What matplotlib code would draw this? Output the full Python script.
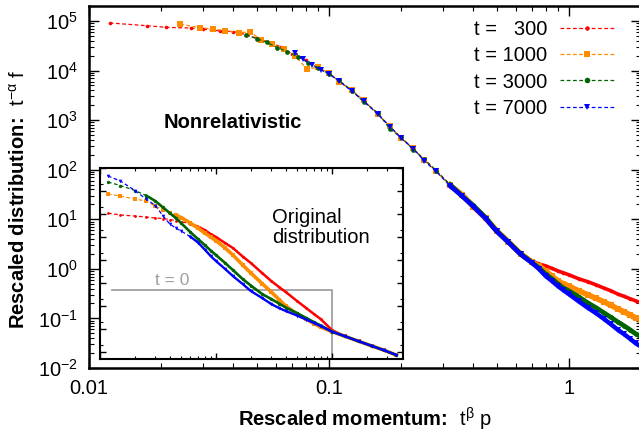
import numpy as np
import matplotlib
matplotlib.use('Agg')
import matplotlib.pyplot as plt
from matplotlib.lines import Line2D
from matplotlib.ticker import LogLocator, NullFormatter, LogFormatterMathtext

# ---------------- main panel: rescaled distributions ----------------
labels = ['t =   300', 't = 1000', 't = 3000', 't = 7000']

x_300 = [0.0122, 0.0175, 0.021, 0.0265, 0.03, 0.035, 0.04, 0.045, 0.05, 0.056, 0.063, 0.07,
         0.08, 0.09, 0.1, 0.11, 0.125, 0.14, 0.16, 0.18, 0.2, 0.225, 0.25, 0.28, 0.32, 0.36,
         0.4, 0.45, 0.5, 0.56, 0.63, 0.7, 0.75, 0.8, 0.85, 0.9, 0.95, 1.0, 1.1, 1.2, 1.3, 1.4,
         1.5, 1.6, 1.7, 1.8, 1.9, 2.0]
f_300 = [9.1e4, 8.0e4, 7.4e4, 7.2e4, 6.8e4, 6.3e4, 6.1e4, 5.3e4, 4.5e4, 3.8e4, 3.0e4, 2.2e4,
         1.6e4, 1.15e4, 8.8e3, 6.3e3, 3.8e3, 2.4e3, 1.35e3, 720, 450, 260, 160, 95, 50, 30,
         19, 11, 6.0, 3.6, 2.1, 1.45, 1.26, 1.15, 1.02, 0.91, 0.83, 0.76, 0.63, 0.55, 0.475, 0.41,
         0.36, 0.31, 0.279, 0.25, 0.226, 0.206]

x_1000 = [0.024, 0.029, 0.033, 0.037, 0.042, 0.047, 0.052, 0.058, 0.065, 0.072, 0.081, 0.09,
          0.1, 0.11, 0.125, 0.14, 0.16, 0.18, 0.2, 0.225, 0.25, 0.28, 0.32, 0.36, 0.4, 0.45,
          0.5, 0.56, 0.63, 0.7, 0.75, 0.8, 0.85, 0.9, 0.95, 1.0, 1.1, 1.2, 1.3, 1.4, 1.5, 1.6,
          1.7, 1.8, 1.9, 2.0]
f_1000 = [8.6e4, 7.3e4, 6.9e4, 6.3e4, 5.8e4, 6.0e4, 4.2e4, 3.4e4, 2.7e4, 2.0e4, 1.08e4, 1.15e4,
          9.0e3, 6.0e3, 4.0e3, 2.5e3, 1.3e3, 750, 430, 270, 155, 92, 48, 31, 18, 10.5,
          5.9, 3.5, 2.0, 1.38, 1.15, 0.91, 0.72, 0.57, 0.50, 0.45, 0.36, 0.30, 0.254, 0.216, 0.184, 0.156,
          0.136, 0.118, 0.103, 0.094]

x_3000 = [0.045, 0.05, 0.055, 0.061, 0.067, 0.074, 0.082, 0.09, 0.1, 0.11, 0.125, 0.14, 0.16,
          0.18, 0.2, 0.225, 0.25, 0.28, 0.32, 0.36, 0.4, 0.45, 0.5, 0.56, 0.63, 0.7, 0.75, 0.8,
          0.85, 0.9, 0.95, 1.0, 1.1, 1.2, 1.3, 1.4, 1.5, 1.6, 1.7, 1.8, 1.9, 2.0]
f_3000 = [5.2e4, 4.4e4, 3.7e4, 2.9e4, 2.4e4, 1.9e4, 1.45e4, 1.12e4, 8.6e3, 6.3e3, 3.9e3, 2.3e3, 1.4e3,
          650, 450, 250, 162, 96, 50, 29, 19, 10.8, 5.8, 3.5, 2.0, 1.36, 1.05, 0.79,
          0.63, 0.50, 0.41, 0.36, 0.272, 0.206, 0.164, 0.130, 0.105, 0.085, 0.071, 0.059, 0.049, 0.043]

x_7000 = [0.072, 0.078, 0.085, 0.093, 0.1, 0.11, 0.125, 0.14, 0.16, 0.18, 0.2, 0.225, 0.25,
          0.28, 0.32, 0.36, 0.4, 0.45, 0.5, 0.56, 0.63, 0.7, 0.75, 0.8, 0.85, 0.9, 0.95, 1.0,
          1.1, 1.2, 1.3, 1.4, 1.5, 1.6, 1.7, 1.8, 1.9, 2.0]
f_7000 = [2.3e4, 1.7e4, 1.3e4, 1.02e4, 8.5e3, 6.2e3, 3.8e3, 2.4e3, 1.3e3, 740, 430, 265, 150,
          92, 47, 29, 18, 10.3, 5.7, 3.4, 1.95, 1.33, 1.0, 0.72, 0.57, 0.45, 0.37, 0.31,
          0.221, 0.164, 0.127, 0.098, 0.076, 0.059, 0.048, 0.039, 0.0315, 0.027]

# ---------------- inset: original distributions ----------------
p_orig = [0.0117, 0.015, 0.02, 0.025, 0.03, 0.035, 0.04, 0.045, 0.05, 0.06, 0.07, 0.08, 0.09,
          0.1, 0.12, 0.14, 0.17, 0.2, 0.25, 0.3, 0.35, 0.4, 0.5, 0.6, 0.7, 0.8, 1.0, 1.3, 1.7,
          2.2, 2.8, 3.6]
g_300 = [1.10, 0.906, 0.818, 0.741, 0.670, 0.637, 0.577, 0.521, 0.472, 0.367, 0.286, 0.201, 0.135,
         0.1, 0.0548, 0.0333, 0.0142, 0.00741, 0.00272, 0.00122, 6.7e-4, 4.07e-4, 1.65e-4, 8.18e-5,
         4.49e-5, 2.72e-5, 9.06e-6, 4.82e-6, 2.95e-6, 1.86e-6, 1.21e-6, 7.41e-7]
g_1000 = [7.41, 6.06, 4.49, 3.67, 2.23, 1.49, 1.10, 0.906, 0.705, 0.407, 0.246, 0.149, 0.1,
          0.0705, 0.0333, 0.0165, 0.00607, 0.00272, 9.5e-4, 4.07e-4, 1.92e-4, 1.0e-4, 4.49e-5,
          2.72e-5, 1.73e-5, 1.22e-5, 7.78e-6, 4.82e-6, 2.95e-6, 1.86e-6, 1.21e-6, 7.41e-7]
g_3000 = [24.6, 17.3, 10.5, 6.37, 3.67, 1.92, 1.10, 0.670, 0.407, 0.165, 0.0818, 0.0449, 0.0259,
          0.0165, 0.00741, 0.00367, 0.00149, 7.78e-4, 3.33e-4, 2.01e-4, 1.29e-4, 8.61e-5, 4.97e-5,
          3.01e-5, 2.01e-5, 1.42e-5, 7.78e-6, 4.82e-6, 2.95e-6, 1.86e-6, 1.21e-6, 7.41e-7]
g_7000 = [44.9, 27.2, 10.5, 4.49, 2.34, 0.818, 0.367, 0.246, 0.182, 0.105, 0.0577, 0.0287, 0.0149,
          0.00906, 0.00406, 0.00201, 9.06e-4, 4.49e-4, 2.23e-4, 1.22e-4, 8.18e-5, 6.07e-5, 3.87e-5,
          2.59e-5, 1.82e-5, 1.35e-5, 7.78e-6, 4.82e-6, 2.95e-6, 1.86e-6, 1.21e-6, 7.41e-7]

# initial step distribution
p_t0 = [0.0127, 1.0, 1.0]
g_t0 = [5e-4, 5e-4, 1e-9]

# ---------------- styles ----------------
colors = ['#ff0000', '#ff8c00', '#006400', '#0000ff']
markers = ['o', 's', 'o', 'v']
ms_main = [2.6, 3.9, 3.4, 4.0]
ms_ins = [2.0, 3.0, 2.4, 2.6]
band_main = [2.6, 4.0, 3.4, 3.2]
band_ins = [1.8, 2.6, 1.9, 1.7]
solid_from = [0.06, 0.045, 0.025, 0.06]

plt.rcParams['font.family'] = 'Liberation Sans'
plt.rcParams['mathtext.fontset'] = 'custom'
plt.rcParams['mathtext.rm'] = 'Liberation Sans'
plt.rcParams['mathtext.it'] = 'Liberation Sans:italic'
plt.rcParams['mathtext.bf'] = 'Liberation Sans:bold'
plt.rcParams['mathtext.default'] = 'regular'
fs = 14.5

fig = plt.figure(figsize=(6.39, 4.41), dpi=100)
ax = fig.add_axes([89/639, 1-368/441, 552/639, 362/441])

series = [(x_300, f_300), (x_1000, f_1000), (x_3000, f_3000), (x_7000, f_7000)]
for i, (x, y) in enumerate(series):
    ax.plot(x, y, color=colors[i], ls='--', dashes=(3, 2), lw=0.9, marker=markers[i],
            ms=ms_main[i], mew=0, zorder=3)
    xa, ya = np.array(x), np.array(y)
    sel = xa >= 0.3
    ax.plot(xa[sel], ya[sel], color=colors[i], lw=band_main[i], zorder=3)

ax.set_xscale('log')
ax.set_yscale('log')
ax.set_xlim(0.01, 2.0)
ax.set_ylim(1e-2, 2e5)
ax.set_xticks([0.01, 0.1, 1])
ax.set_xticklabels(['0.01', '0.1', '1'])
ax.xaxis.set_minor_locator(LogLocator(base=10, subs=np.arange(2, 10), numticks=50))
ax.xaxis.set_minor_formatter(NullFormatter())
ax.yaxis.set_major_locator(LogLocator(base=10, numticks=20))
ax.yaxis.set_major_formatter(LogFormatterMathtext())
ax.yaxis.set_minor_locator(LogLocator(base=10, subs=np.arange(2, 10), numticks=50))
ax.yaxis.set_minor_formatter(NullFormatter())
ax.tick_params(which='both', direction='in', top=True, right=True, labelsize=fs)
ax.tick_params(which='major', length=7, width=1.0, pad=8)
ax.tick_params(which='minor', length=3.5, width=0.8)
for s in ax.spines.values():
    s.set_linewidth(1.8)

ax.set_xlabel(r'$\mathbf{Rescaled\ momentum\!:}\!\ \ \mathrm{t^{\beta}\ p}$', fontsize=fs)
ax.set_ylabel(r'$\mathbf{Rescaled\ distribution\!:}\!\ \ \mathrm{t^{-\alpha}\ f}$', fontsize=fs)
ax.xaxis.set_label_coords(0.5, -0.105)
ax.yaxis.set_label_coords(-0.11, 0.467)

fig.text(233/639, 1-122/441, 'Nonrelativistic', fontsize=fs, fontweight='bold',
         ha='center', va='center')

handles = [Line2D([], [], color=colors[i], ls='--', dashes=(3, 2), lw=0.9, marker=markers[i],
                  ms=ms_main[i] + 0.6, mew=0) for i in range(4)]
fig.legend(handles, labels, loc='upper right', bbox_to_anchor=(615/639, 1-20/441),
           frameon=False, fontsize=fs, markerfirst=False, handlelength=2.75,
           handletextpad=0.6, labelspacing=0.36, borderpad=0, borderaxespad=0)

# ---------------- inset ----------------
axi = fig.add_axes([100/639, 1-359/441, 303/639, 191/441], zorder=5)
axi.set_facecolor('white')
insets = [g_300, g_1000, g_3000, g_7000]
pa = np.array(p_orig)
for i, g in enumerate(insets):
    axi.plot(p_orig, g, color=colors[i], ls='--', dashes=(3, 2), lw=0.9, marker=markers[i],
             ms=ms_ins[i], mew=0)
    sel = pa >= solid_from[i]
    axi.plot(pa[sel], np.array(g)[sel], color=colors[i], lw=band_ins[i])
axi.plot(p_t0, g_t0, color='#a0a0a0', lw=1.3, zorder=1)
axi.text(0.238, 0.387, 't = 0', transform=axi.transAxes, color='#a0a0a0', fontsize=12.5,
         ha='center', va='baseline')
axi.text(0.568, 0.79, 'Original\ndistribution', transform=axi.transAxes, fontsize=fs,
         ha='left', va='top', linespacing=1.05)

axi.set_xscale('log')
axi.set_yscale('log')
axi.set_xlim(0.01, 4.1)
axi.set_ylim(5e-7, 100)
axi.xaxis.set_major_locator(LogLocator(base=10, numticks=20))
axi.xaxis.set_minor_locator(LogLocator(base=10, subs=np.arange(2, 10), numticks=50))
axi.yaxis.set_major_locator(LogLocator(base=10, numticks=20))
axi.yaxis.set_minor_locator(LogLocator(base=10, subs=(2,), numticks=50))
axi.tick_params(which='both', direction='in', top=True, right=True,
                labelbottom=False, labelleft=False)
axi.tick_params(which='major', length=4.5, width=1.0)
axi.tick_params(which='minor', length=2.3, width=0.8)
for s in axi.spines.values():
    s.set_linewidth(1.5)

plt.savefig('out.png', dpi=100)
